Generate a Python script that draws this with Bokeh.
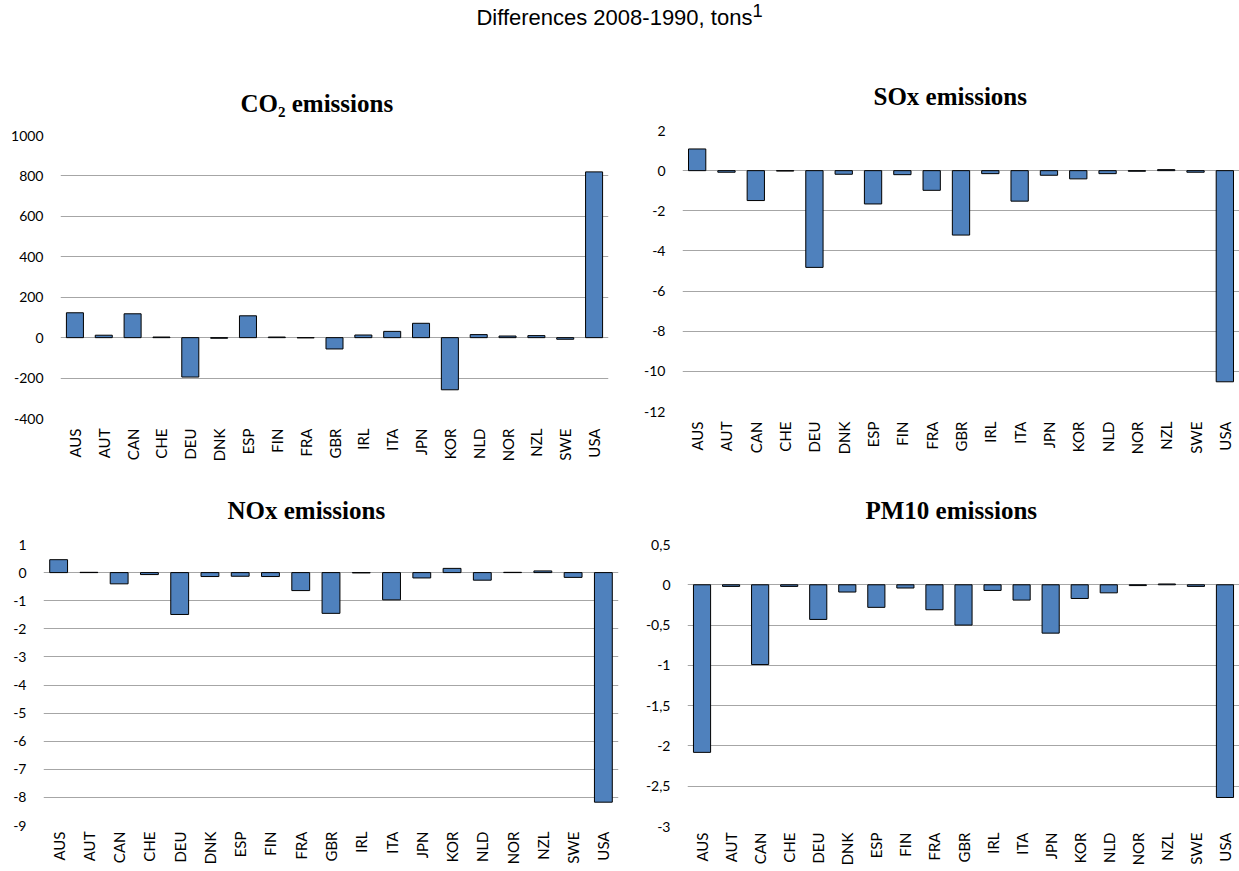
import math
from bokeh.plotting import figure
from bokeh.models import FactorRange, Range1d, FixedTicker, Div, CustomJSTickFormatter
from bokeh.layouts import column, row
from bokeh.embed import file_html
from bokeh.resources import INLINE

countries = ["AUS", "AUT", "CAN", "CHE", "DEU", "DNK", "ESP", "FIN", "FRA", "GBR",
             "IRL", "ITA", "JPN", "KOR", "NLD", "NOR", "NZL", "SWE", "USA"]

co2 = [123, 12, 118, 3, -195, -3, 108, 3, -1, -56, 13, 31, 71, -258, 15, 8, 10, -8, 820]
sox = [1.08, -0.08, -1.49, -0.02, -4.82, -0.18, -1.66, -0.2, -0.98, -3.21,
       -0.15, -1.52, -0.23, -0.41, -0.15, -0.03, 0.05, -0.08, -10.52]
nox = [0.46, 0.01, -0.4, -0.07, -1.49, -0.14, -0.13, -0.14, -0.64, -1.45,
       -0.01, -0.97, -0.19, 0.15, -0.27, 0.01, 0.06, -0.17, -8.17]
pm10 = [-2.08, -0.02, -0.99, -0.02, -0.43, -0.09, -0.28, -0.04, -0.31, -0.5,
        -0.07, -0.19, -0.6, -0.17, -0.1, -0.01, 0.01, -0.02, -2.64]

co2_ticks = [-400, -200, 0, 200, 400, 600, 800, 1000]
sox_ticks = [-12, -10, -8, -6, -4, -2, 0, 2]
nox_ticks = [-9, -8, -7, -6, -5, -4, -3, -2, -1, 0, 1]
pm10_ticks = [-3, -2.5, -2, -1.5, -1, -0.5, 0, 0.5]

main_title = "Differences 2008-1990, tons<sup>1</sup>"
titles = ["CO\u2082 emissions", "SOx emissions", "NOx emissions", "PM10 emissions"]

BAR = "#4F81BD"
GRID = "#A6A6A6"
LABEL_FONT = "Lato"


def make(title, vals, ticks, w, h, bl, br, bt, bb, xstand, toff, tstand):
    p = figure(x_range=FactorRange(*countries, range_padding=0),
               y_range=Range1d(min(ticks), max(ticks)),
               width=w, height=h, output_backend="svg", toolbar_location=None,
               min_border_left=bl, min_border_right=br,
               min_border_top=bt, min_border_bottom=bb,
               outline_line_color=None, background_fill_color="white",
               border_fill_color="white", margin=0)
    p.vbar(x=countries, top=vals, bottom=0, width=0.59,
           fill_color=BAR, line_color="black", line_width=1)
    p.title.text = title
    p.title.align = "left"
    p.title.offset = toff
    p.title.text_font = "Liberation Serif"
    p.title.text_font_style = "bold"
    p.title.text_font_size = "25px"
    p.title.text_color = "black"
    p.title.standoff = tstand

    p.xgrid.visible = False
    p.ygrid.grid_line_color = GRID
    p.ygrid.grid_line_width = 1.2
    p.yaxis.ticker = FixedTicker(ticks=ticks)
    p.yaxis.formatter = CustomJSTickFormatter(code="return tick.toString().replace('.', ',');")
    p.yaxis.axis_line_color = None
    p.yaxis.major_tick_line_color = None
    p.yaxis.minor_tick_line_color = None
    p.yaxis.major_tick_out = 0
    p.yaxis.major_tick_in = 0
    p.yaxis.major_label_standoff = 17
    p.yaxis.major_label_text_font = LABEL_FONT
    p.yaxis.major_label_text_font_size = "14px"
    p.yaxis.major_label_text_color = "black"

    p.xaxis.axis_line_color = None
    p.xaxis.major_tick_line_color = None
    p.xaxis.major_tick_out = 0
    p.xaxis.major_tick_in = 0
    p.xaxis.major_label_orientation = math.pi / 2
    p.xaxis.major_label_standoff = xstand
    p.xaxis.major_label_text_font = LABEL_FONT
    p.xaxis.major_label_text_font_size = "15px"
    p.xaxis.major_label_text_color = "black"
    return p


p1 = make(titles[0], co2, co2_ticks, 620, 412, 60, 12, 77, 52, 10, 180, 38)
p2 = make(titles[1], sox, sox_ticks, 619, 412, 62, 0, 72, 59, 10, 191, 41)
p3 = make(titles[2], nox, nox_ticks, 620, 400, 43, 2, 74, 45, 6, 184, 41)
p4 = make(titles[3], pm10, pm10_ticks, 619, 400, 67, 0, 74, 44, 6, 178, 41)

div = Div(text=main_title, width=1239, height=58, margin=0,
          styles={"text-align": "center", "font-family": "'Liberation Sans', Arial, sans-serif",
                  "font-size": "22px", "line-height": "1", "color": "black", "width": "1239px",
                  "padding-top": "2px"})

layout = column(div,
                row(column(p1, margin=0), column(p2, margin=0), margin=0),
                row(column(p3, margin=0), column(p4, margin=0), margin=0),
                margin=0)
open("out.html", "w").write(file_html(layout, INLINE))
